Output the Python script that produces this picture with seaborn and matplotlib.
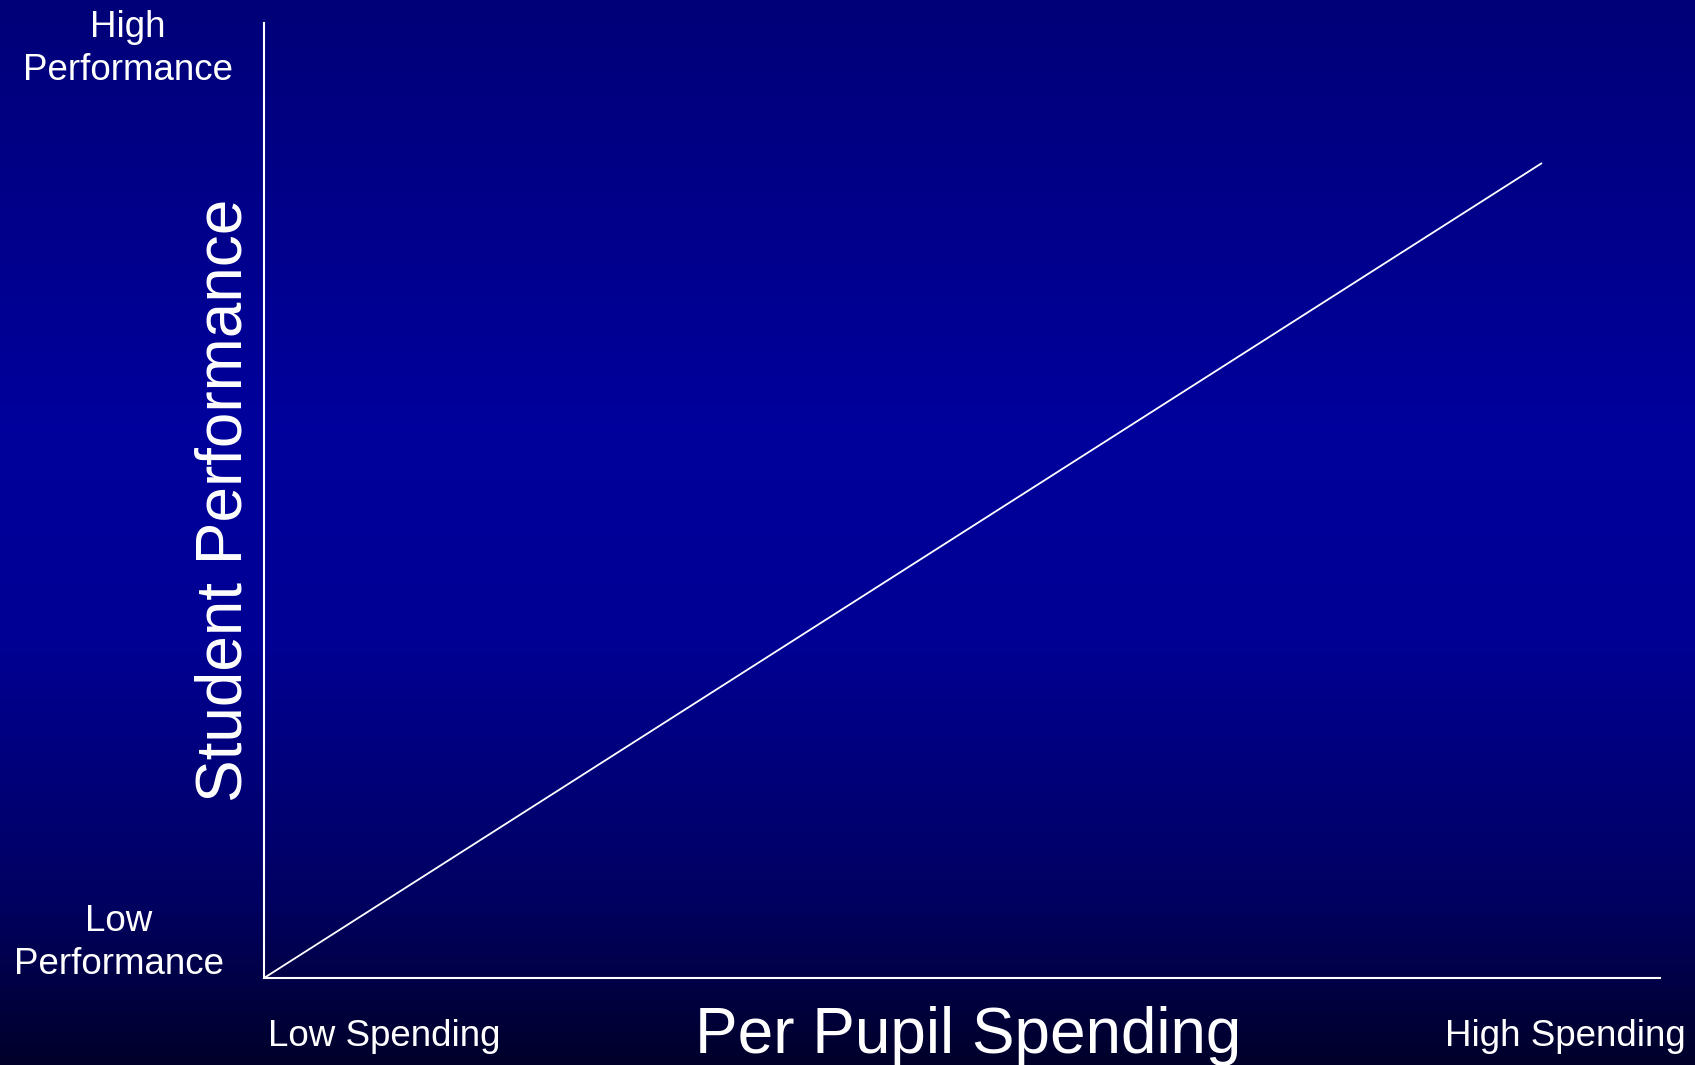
import matplotlib
matplotlib.use("Agg")
import matplotlib.pyplot as plt
import numpy as np
import pandas as pd
import seaborn as sns
from matplotlib.colors import LinearSegmentedColormap

# conceptual relationship: spending vs performance (axis fractions)
spending = [0.0, 0.915]
performance = [0.0, 0.853]

y_low_label = "Low\nPerformance"
y_high_label = "High\nPerformance"
x_low_label = "Low Spending"
x_high_label = "High Spending"

sns.set_theme(style="white")
plt.rcParams['font.family'] = ['Liberation Sans', 'DejaVu Sans']

fig = plt.figure(figsize=(16.95, 10.65), dpi=100)

# background gradient: navy at top, brighter blue in the middle, near black at bottom
bg = fig.add_axes([0, 0, 1, 1], zorder=0)
grad = LinearSegmentedColormap.from_list(
    "bg", [(0.0, "#000078"), (0.4, "#00009c"), (0.6, "#000094"), (0.85, "#000060"), (1.0, "#00002a")])
bg.imshow(np.linspace(0, 1, 256).reshape(-1, 1), aspect="auto", cmap=grad, extent=[0, 1, 0, 1])
bg.axis("off")

ax = fig.add_axes([0.1558, 0.0817, 0.8236, 0.8967], zorder=1)
ax.patch.set_alpha(0)

df = pd.DataFrame({"spending": spending, "performance": performance})
sns.lineplot(data=df, x="spending", y="performance", color="white", linewidth=1.3, ax=ax)

ax.set_xlim(0, 1)
ax.set_ylim(0, 1)
ax.set_xticks([])
ax.set_yticks([])
ax.set_xlabel("")
ax.set_ylabel("")
for side in ["top", "right"]:
    ax.spines[side].set_visible(False)
for side in ["left", "bottom"]:
    ax.spines[side].set_color("white")
    ax.spines[side].set_linewidth(1.5)

fig.text(128 / 1695, 1 - 49 / 1065, y_high_label, color="white", fontsize=26.5,
         ha="center", va="center", linespacing=1.3)
fig.text(119 / 1695, 1 - 943 / 1065, y_low_label, color="white", fontsize=26.5,
         ha="center", va="center", linespacing=1.3)
fig.text(268 / 1695, 1 - 1037 / 1065, x_low_label, color="white", fontsize=26.5,
         ha="left", va="center")
fig.text(1686 / 1695, 1 - 1037 / 1065, x_high_label, color="white", fontsize=26.5,
         ha="right", va="center")
fig.text(968 / 1695, 1 - 1036 / 1065, "Per Pupil Spending", color="white", fontsize=46,
         ha="center", va="center")
fig.text(225 / 1695, 1 - 500 / 1065, "Student Performance", color="white", fontsize=46,
         ha="center", va="center", rotation=90)

fig.savefig("out.png", dpi=100)
